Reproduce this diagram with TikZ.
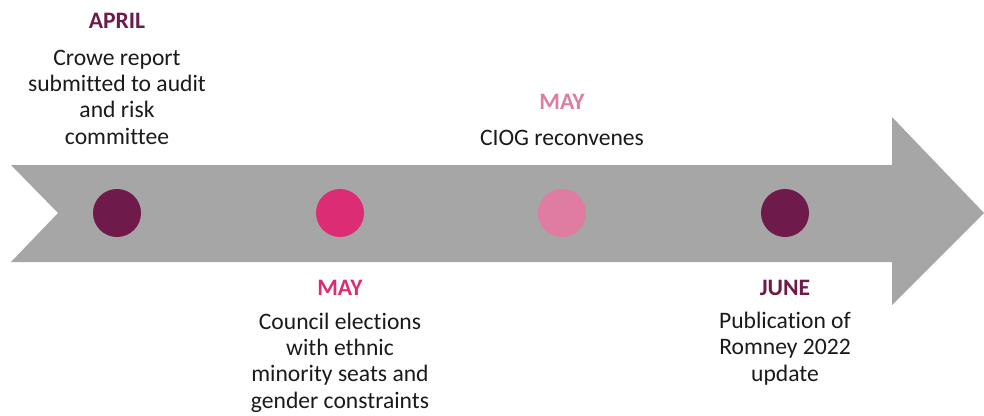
\documentclass[tikz,border=0pt]{standalone}
\usepackage{fontspec}
\setmainfont{Carlito}[Ligatures=NoCommon]
\definecolor{plum}{HTML}{6E1A4A}
\definecolor{rose}{HTML}{DC2C74}
\definecolor{blush}{HTML}{E07BA1}
\definecolor{shaft}{HTML}{A6A6A6}
\definecolor{ink}{HTML}{1A1A1A}
\begin{document}
\begin{tikzpicture}[x=1pt,y=-1pt,
  dot/.style={circle,minimum size=48pt,inner sep=0pt},
  month/.style={anchor=base,inner sep=0pt,font=\fontsize{23.6}{26.3}\selectfont\bfseries},
  note/.style={anchor=base,inner sep=0pt,align=center,text=ink,font=\fontsize{23.6}{26.3}\selectfont}]
\useasboundingbox (0,0) rectangle (984,415);
% timeline arrow with notched tail
\fill[shaft] (11,165) -- (892,165) -- (892,117) -- (984,213) -- (892,305)
  -- (892,262) -- (11,262) -- (58,213) -- cycle;
% milestones
\node[dot,fill=plum]  (d1) at (117,213) {};
\node[dot,fill=rose]  (d2) at (340,213) {};
\node[dot,fill=blush] (d3) at (562,213) {};
\node[dot,fill=plum]  (d4) at (785,213) {};
% labels above the arrow (base anchor sits on the last line)
\node[month,text=plum]  (m1) at (117,28) {APRIL};
\node[note] (t1) at (117,144) {Crowe report\\submitted to audit\\and risk\\committee};
\node[month,text=blush] (m3) at (562,109) {MAY};
\node[note] (t3) at (562,145) {CIOG reconvenes};
% labels below the arrow
\node[month,text=rose]  (m2) at (340,295) {MAY};
\node[note] (t2) at (340,408) {Council elections\\with ethnic\\minority seats and\\gender constraints};
\node[month,text=plum]  (m4) at (785,295) {JUNE};
\node[note] (t4) at (785,381) {Publication of\\Romney 2022\\update};
\end{tikzpicture}
\end{document}
